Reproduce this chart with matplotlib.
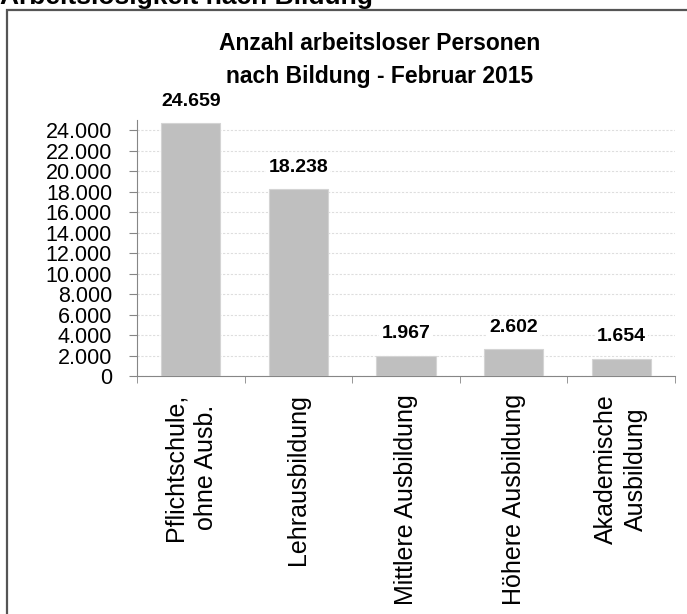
import matplotlib
matplotlib.use('Agg')
import matplotlib.pyplot as plt
from matplotlib.patches import Rectangle
from matplotlib.ticker import FuncFormatter, FixedLocator

# data
categories = ['Pflichtschule,\nohne Ausb.', 'Lehrausbildung', 'Mittlere Ausbildung',
              'Höhere Ausbildung', 'Akademische\nAusbildung']
values = [24659, 18238, 1967, 2602, 1654]
y_ticks = list(range(0, 24001, 2000))

plt.rcParams['font.family'] = ['Liberation Sans', 'DejaVu Sans']

W, H = 687, 614
fig = plt.figure(figsize=(W / 100, H / 100), dpi=100)

# outer frame (only top/left visible)
fig.patches.append(Rectangle((6.5 / W, -0.05), 1.0, 1.05 - 10 / H, transform=fig.transFigure,
                             fill=False, edgecolor='#555555', linewidth=1.6, clip_on=False,
                             zorder=5))

# page heading, cut off at the top like in the screenshot
fig.text(0.0, 1 - 4 / H, 'Arbeitslosigkeit nach Bildung', fontsize=19, fontweight='bold',
         ha='left', va='baseline', zorder=1)

ax = fig.add_axes([137 / W, 1 - 376 / H, 538 / W, 256 / H])
x = list(range(len(values)))
ax.bar(x, values, width=0.55, color='#bfbfbf', edgecolor='#d4d4d4', linewidth=0.8, zorder=3)

ax.set_xlim(-0.5, len(values) - 0.5)
ax.set_ylim(0, 25000)
ax.set_yticks(y_ticks)
ax.yaxis.set_major_formatter(FuncFormatter(lambda v, p: f'{int(v):,}'.replace(',', '.')))
ax.grid(axis='y', linestyle=(0, (2, 1.5)), color='#dedede', linewidth=0.8, zorder=0)

ax.set_xticks(x)
ax.set_xticklabels(categories, rotation=90, fontsize=18, ha='center', va='top',
                   multialignment='center', linespacing=1.3)
ax.xaxis.set_minor_locator(FixedLocator([i - 0.5 for i in range(len(values) + 1)]))
ax.tick_params(axis='x', which='major', length=0, pad=13)
ax.tick_params(axis='x', which='minor', length=5, color='#868686', direction='out')
ax.tick_params(axis='y', length=6, color='#868686', labelsize=15.5, pad=12)

for s in ['top', 'right']:
    ax.spines[s].set_visible(False)
for s in ['left', 'bottom']:
    ax.spines[s].set_color('#868686')

for xi, v in zip(x, values):
    ax.annotate(f'{v:,}'.replace(',', '.'), (xi, v), xytext=(0, 16), textcoords='offset points',
                ha='center', va='center', fontsize=14, fontweight='bold', zorder=4,
                bbox=dict(facecolor='white', edgecolor='none', pad=1.5))

fig.text(380 / W, 1 - 60 / H, 'Anzahl arbeitsloser Personen\nnach Bildung - Februar 2015',
         fontsize=16.5, fontweight='bold', ha='center', va='center', linespacing=1.5)

fig.savefig('out.png', dpi=100)
